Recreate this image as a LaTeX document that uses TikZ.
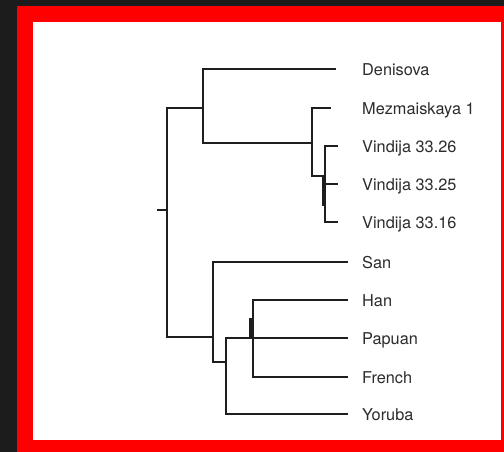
\documentclass[tikz,border=0pt]{standalone}
\usepackage{fontspec}
\setmainfont{TeX Gyre Heros}
\definecolor{pagebg}{HTML}{1C1C1C}
\definecolor{framered}{HTML}{FF0000}
\definecolor{branch}{HTML}{1E1E1E}
\definecolor{labeltext}{HTML}{2C2C2C}
\tikzset{
  branchline/.style={draw=branch, line width=2.4pt, line join=miter},
  knot/.style={draw=branch, line width=3.2pt},
  taxon/.style={anchor=base west, inner sep=0pt, text=labeltext,
    font=\fontsize{16.3}{19}\selectfont},
}
\begin{document}
\begin{tikzpicture}[x=1pt, y=-1pt]
  \useasboundingbox (0,0) rectangle (504,452);
  % frame
  \fill[pagebg] (0,0) rectangle (504,452);
  \fill[framered] (17,6) rectangle (504,452);
  \fill[white] (33,22) rectangle (501,440);

  % branch tips
  \coordinate (deni) at (336,69);
  \coordinate (mez)  at (331,108);
  \coordinate (v26)  at (338,146);
  \coordinate (v25)  at (338,184);
  \coordinate (v16)  at (338,222);
  \coordinate (san)  at (348,262);
  \coordinate (han)  at (348,300);
  \coordinate (pap)  at (348,338);
  \coordinate (fre)  at (348,377);
  \coordinate (yor)  at (348,414);

  % internal nodes
  \coordinate (stub) at (157,210);
  \coordinate (root) at (167,210);
  \coordinate (arch) at (203,108);
  \coordinate (nean) at (312,143);
  \coordinate (vind) at (325,176);
  \coordinate (vinda) at (323.8,176);
  \coordinate (vindb) at (323.8,206);
  \coordinate (mod)  at (213,337);
  \coordinate (afr)  at (226,362);
  \coordinate (eur)  at (253,338);
  \coordinate (eura) at (251,318);
  \coordinate (eurb) at (251,338);

  % tree
  \draw[branchline] (stub) -- (root);
  \draw[branchline] (arch) -| (root) |- (mod);
  \draw[branchline] (deni) -| (arch) |- (nean);
  \draw[branchline] (mez) -| (nean) |- (vind);
  \draw[branchline] (v26) -| (vind) |- (v16);
  \draw[branchline] (vind |- v25) -- (v25);
  \draw[knot] (vinda) -- (vindb);
  \draw[branchline] (san) -| (mod) |- (afr);
  \draw[branchline] (pap) -| (afr) |- (yor);
  \draw[branchline] (han) -| (eur) |- (fre);
  \draw[knot] (eura) -- (eurb);

  % taxon labels
  \node[taxon] (ldeni) at (362,75.5)  {Denisova};
  \node[taxon] (lmez)  at (362,114.5) {Mezmaiskaya 1};
  \node[taxon] (lv26)  at (362,152.5) {Vindija 33.26};
  \node[taxon] (lv25)  at (362,190.5) {Vindija 33.25};
  \node[taxon] (lv16)  at (362,228.5) {Vindija 33.16};
  \node[taxon] (lsan)  at (362,268.5) {San};
  \node[taxon] (lhan)  at (362,306.5) {Han};
  \node[taxon] (lpap)  at (362,344.5) {Papuan};
  \node[taxon] (lfre)  at (362,383.5) {French};
  \node[taxon] (lyor)  at (362,420.5) {Yoruba};
\end{tikzpicture}
\end{document}
